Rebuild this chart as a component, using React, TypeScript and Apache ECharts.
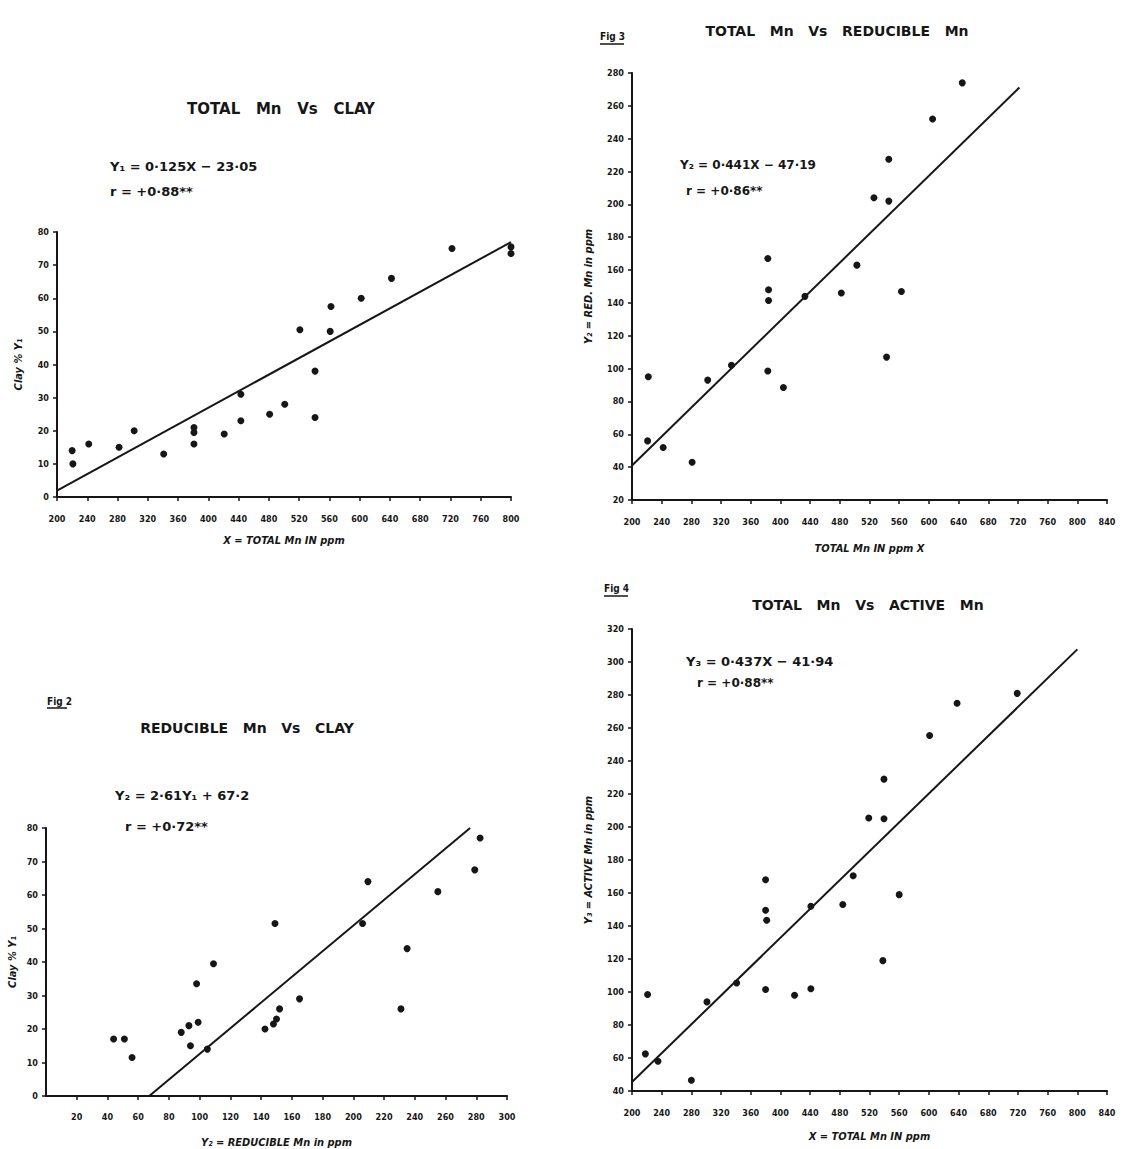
import React, { useEffect, useRef } from "react";
import * as echarts from "echarts";

// Fig: Total Mn vs Clay
const f1TotalMn = [220, 221, 242, 282, 302, 341, 381, 381, 381, 421, 443, 443, 481, 501, 521, 541, 541, 561, 562, 602, 642, 722, 800, 800];
const f1Clay = [14, 10, 16, 15, 20, 13, 21, 19.5, 16, 19, 23, 31, 25, 28, 50.5, 24, 38, 50, 57.5, 60, 66, 75, 73.5, 75.5];
const f1Slope = 0.125;
const f1Intercept = -23.05;
const f1Range = [200, 800];

// Fig: Total Mn vs Reducible Mn
const f2TotalMn = [222, 221, 242, 281, 302, 334, 383, 384, 384, 383, 404, 433, 482, 503, 526, 546, 546, 543, 563, 605, 645];
const f2RedMn = [95, 56, 52, 43, 93, 102, 167, 148, 141.5, 98.5, 88.5, 144, 146, 163, 204, 227.5, 202, 107, 147, 252, 274];
const f2Slope = 0.441;
const f2Intercept = -47.19;
const f2Range = [200, 722];

// Fig 2: Reducible Mn vs Clay
const f3RedMn = [44, 51, 56, 88, 93, 94, 99, 98, 105, 109, 142.5, 148, 150, 152, 149, 165, 206, 209.5, 231, 235, 255, 279, 282.5];
const f3Clay = [17, 17, 11.5, 19, 21, 15, 22, 33.5, 14, 39.5, 20, 21.5, 23, 26, 51.5, 29, 51.5, 64, 26, 44, 61, 67.5, 77];
const f3Slope = 2.61; // Y2 = 2.61 Y1 + 67.2
const f3Intercept = 67.2;
const f3ClayRange = [0, 80];

// Fig 4: Total Mn vs Active Mn
const f4TotalMn = [221, 218, 235, 280, 301, 341, 380, 380, 381.5, 380, 419, 441, 441, 484, 498, 519, 539.5, 539.5, 538, 560, 601, 638, 719];
const f4ActMn = [98.5, 62.5, 58, 46.5, 94, 105.5, 168, 149.5, 143.5, 101.5, 98, 102, 152, 153, 170.5, 205.5, 229, 205, 119, 159, 255.5, 275, 281];
const f4Slope = 0.437;
const f4Intercept = -41.94;
const f4Range = [200, 800];

const FONT = "'DejaVu Sans Condensed', 'DejaVu Sans', sans-serif";
const FONT_WIDE = "'DejaVu Sans', sans-serif";
const INK = "#161616";

const pairs = (xs: number[], ys: number[]) => xs.map((x, i) => [x, ys[i]]);

export default function App() {
  const ref = useRef<HTMLDivElement>(null);
  useEffect(() => {
    if (!ref.current) return;
    const chart = echarts.init(ref.current, null, { renderer: "svg" });

    const axisBase = (min: number, max: number, interval: number, margin: number, hideMin = false) => ({
      type: "value" as const,
      min,
      max,
      interval,
      axisLine: { show: true, lineStyle: { color: INK, width: 2 } },
      axisTick: { show: true, length: 4, lineStyle: { color: INK, width: 1.5 } },
      splitLine: { show: false },
      axisLabel: {
        color: INK,
        fontFamily: FONT,
        fontSize: 9,
        fontWeight: "bold" as const,
        margin,
        showMinLabel: !hideMin,
      },
      nameTextStyle: { color: INK, fontFamily: FONT, fontSize: 11, fontWeight: "bold" as const, fontStyle: "italic" as const },
    });

    const line1 = f1Range.map((x) => [x, f1Slope * x + f1Intercept]);
    const line2 = f2Range.map((x) => [x, f2Slope * x + f2Intercept]);
    const line3 = f3ClayRange.map((c) => [f3Slope * c + f3Intercept, c]);
    const line4 = f4Range.map((x) => [x, f4Slope * x + f4Intercept]);

    const scatter = (idx: number, data: number[][]) => ({
      type: "scatter" as const,
      xAxisIndex: idx,
      yAxisIndex: idx,
      data,
      symbolSize: 7,
      itemStyle: { color: INK, opacity: 1 },
    });
    const reg = (idx: number, data: number[][]) => ({
      type: "line" as const,
      xAxisIndex: idx,
      yAxisIndex: idx,
      data,
      symbol: "none",
      lineStyle: { color: INK, width: 2 },
    });

    const txt = (text: string, x: number, y: number, size: number, align = "left", family = FONT_WIDE) => ({
      type: "text" as const,
      x,
      y,
      style: {
        text,
        fill: INK,
        font: `bold ${size}px ${family}`,
        textAlign: align,
        textVerticalAlign: "middle",
      },
    });

    chart.setOption({
      animation: false,
      backgroundColor: "#ffffff",
      grid: [
        { left: 57, top: 232, width: 454, height: 265 },
        { left: 632, top: 73, width: 475, height: 427 },
        { left: 46, top: 828, width: 461, height: 269 },
        { left: 632, top: 629, width: 475, height: 462 },
      ],
      xAxis: [
        { ...axisBase(200, 800, 40, 17), gridIndex: 0, name: "X = TOTAL Mn IN ppm", nameLocation: "middle", nameGap: 38 },
        { ...axisBase(200, 840, 40, 17), gridIndex: 1, name: "TOTAL Mn IN ppm X", nameLocation: "middle", nameGap: 43 },
        { ...axisBase(0, 300, 20, 16, true), gridIndex: 2, name: "Y₂ = REDUCIBLE Mn in ppm", nameLocation: "middle", nameGap: 41 },
        { ...axisBase(200, 840, 40, 17), gridIndex: 3, name: "X = TOTAL Mn IN ppm", nameLocation: "middle", nameGap: 40 },
      ],
      yAxis: [
        { ...axisBase(0, 80, 10, 8), gridIndex: 0, name: "Clay % Y₁", nameLocation: "middle", nameGap: 33, nameRotate: 90 },
        { ...axisBase(20, 280, 20, 8), gridIndex: 1, name: "Y₂ = RED. Mn in ppm", nameLocation: "middle", nameGap: 38, nameRotate: 90 },
        { ...axisBase(0, 80, 10, 8), gridIndex: 2, name: "Clay % Y₁", nameLocation: "middle", nameGap: 28, nameRotate: 90 },
        { ...axisBase(40, 320, 20, 8), gridIndex: 3, name: "Y₃ = ACTIVE Mn in ppm", nameLocation: "middle", nameGap: 38, nameRotate: 90 },
      ],
      series: [
        scatter(0, pairs(f1TotalMn, f1Clay)),
        reg(0, line1),
        scatter(1, pairs(f2TotalMn, f2RedMn)),
        reg(1, line2),
        scatter(2, pairs(f3RedMn, f3Clay)),
        reg(2, line3),
        scatter(3, pairs(f4TotalMn, f4ActMn)),
        reg(3, line4),
      ],
      graphic: [
        txt("TOTAL   Mn   Vs   CLAY", 281, 109, 15, "center"),
        txt("Y₁ = 0·125X − 23·05", 110, 166, 13),
        txt("r = +0·88**", 110, 191, 13),

        txt("Fig 3", 600, 36, 10, "left", FONT),
        { type: "line", shape: { x1: 600, y1: 44, x2: 624, y2: 44 }, style: { stroke: INK, lineWidth: 1.5 } },
        txt("TOTAL   Mn   Vs   REDUCIBLE   Mn", 837, 31, 14, "center"),
        txt("Y₂ = 0·441X − 47·19", 680, 165, 12),
        txt("r = +0·86**", 686, 191, 12),

        txt("Fig 2", 47, 701, 10, "left", FONT),
        { type: "line", shape: { x1: 47, y1: 708, x2: 67, y2: 708 }, style: { stroke: INK, lineWidth: 1.5 } },
        txt("REDUCIBLE   Mn   Vs   CLAY", 247, 728, 14, "center"),
        txt("Y₂ = 2·61Y₁ + 67·2", 115, 795, 13),
        txt("r = +0·72**", 125, 826, 13),

        txt("Fig 4", 604, 588, 10, "left", FONT),
        { type: "line", shape: { x1: 604, y1: 596, x2: 628, y2: 596 }, style: { stroke: INK, lineWidth: 1.5 } },
        txt("TOTAL   Mn   Vs   ACTIVE   Mn", 868, 605, 14, "center"),
        txt("Y₃ = 0·437X − 41·94", 686, 661, 13),
        txt("r = +0·88**", 697, 683, 12),
      ],
    });
    return () => chart.dispose();
  }, []);
  return (
    <div
      ref={ref}
      style={{ position: "absolute", left: 0, top: 0, width: 1122, height: 1149, background: "#fff" }}
    />
  );
}
